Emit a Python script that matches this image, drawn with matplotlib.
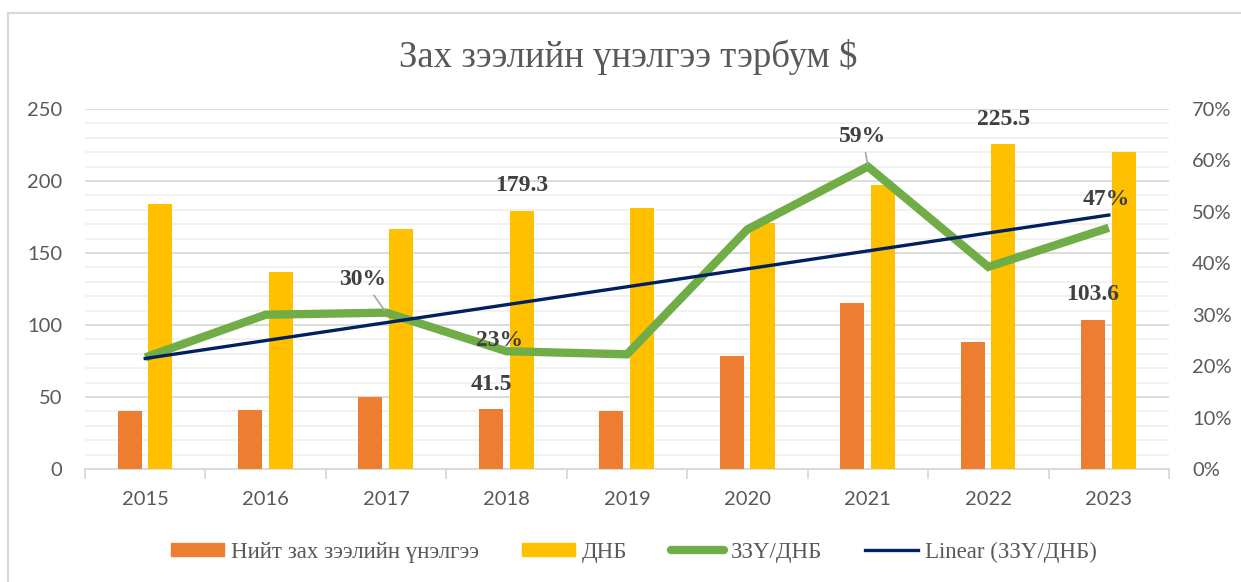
import numpy as np
import matplotlib
matplotlib.use("Agg")
import matplotlib.pyplot as plt
from matplotlib.lines import Line2D
from matplotlib.patches import Rectangle

years = ["2015", "2016", "2017", "2018", "2019", "2020", "2021", "2022", "2023"]
market_cap = [40.1, 40.8, 50.3, 41.5, 40.4, 78.8, 115.0, 87.9, 103.6]
gdp = [184.1, 137.1, 166.5, 179.3, 181.1, 170.7, 196.9, 225.5, 220.1]
ratio = [0.217, 0.300, 0.304, 0.229, 0.223, 0.466, 0.588, 0.393, 0.469]

title = "Зах зээлийн үнэлгээ тэрбум $"
lbl_mc = "Нийт зах зээлийн үнэлгээ"
lbl_gdp = "ДНБ"
lbl_ratio = "ЗЗҮ/ДНБ"
lbl_trend = "Linear (ЗЗҮ/ДНБ)"

C_OR = "#ED7D31"
C_YE = "#FFC000"
C_GR = "#70AD47"
C_NV = "#002060"
C_TXT = "#595959"
C_LBL = "#404040"

W, H = 1241, 582
fig = plt.figure(figsize=(W / 100, H / 100), dpi=100)
fig.patch.set_facecolor("white")

# chart border (top/left visible)
fig.add_artist(Rectangle((8 / W, -0.1), 1.2, 1 - 13 / H + 0.1, transform=fig.transFigure,
                         fill=False, edgecolor="#d9d9d9", lw=1.5))

ax = fig.add_axes([85 / W, (H - 469) / H, (1169 - 85) / W, (469 - 109) / H])
ax2 = ax.twinx()

x = np.arange(len(years))
bw = 0.2
ax.bar(x - 0.13, market_cap, bw, color=C_OR, zorder=3, label=lbl_mc)
ax.bar(x + 0.125, gdp, bw, color=C_YE, zorder=3, label=lbl_gdp)

ax.set_xlim(-0.5, len(years) - 0.5)
ax.set_ylim(0, 250)
ax.set_yticks(np.arange(0, 251, 50))
ax.set_yticks(np.arange(0, 251, 10), minor=True)
ax.grid(which="major", axis="y", color="#d9d9d9", lw=1.3, zorder=0)
ax.grid(which="minor", axis="y", color="#f0f0f0", lw=1.3, zorder=0)
ax.set_axisbelow(True)

ax.set_xticks(x)
ax.set_xticklabels(years)
ax.set_xticks(np.arange(-0.5, len(years)), minor=True)
ax.tick_params(axis="x", which="major", length=0, pad=16)
ax.tick_params(axis="x", which="minor", length=7, color="#d9d9d9", width=1.3)
ax.tick_params(axis="y", which="both", length=0, pad=16.5)
for s in ["top", "right", "left"]:
    ax.spines[s].set_visible(False)
ax.spines["bottom"].set_color("#d9d9d9")
ax.spines["bottom"].set_linewidth(1.3)

for sp in ax2.spines.values():
    sp.set_visible(False)
ax2.set_ylim(0, 0.7)
ax2.set_yticks(np.arange(0, 0.71, 0.1))
ax2.set_yticklabels([f"{int(round(v*100))}%" for v in np.arange(0, 0.71, 0.1)])
ax2.tick_params(axis="y", length=0, pad=16.5)

for a in (ax, ax2):
    for t in a.get_xticklabels() + a.get_yticklabels():
        t.set_fontfamily("Lato")
        t.set_fontsize(14.5)
        t.set_color(C_TXT)

ax2.plot(x, ratio, color=C_GR, lw=6, solid_joinstyle="miter", solid_capstyle="butt", zorder=4)
coef = np.polyfit(x, ratio, 1)
trend = np.polyval(coef, x)
ax2.plot(x, trend, color=C_NV, lw=2.4, zorder=5)

# data labels
lab_kw = dict(fontsize=17, fontweight="bold", family="Liberation Serif", color=C_LBL,
              ha="center", va="center", textcoords="offset pixels", zorder=6)
ax.annotate("179.3", (3 + 0.125, gdp[3]), xytext=(0, 25), **lab_kw)
ax.annotate("225.5", (7 + 0.125, gdp[7]), xytext=(0, 25), **lab_kw)
ax.annotate("41.5", (3 - 0.13, market_cap[3]), xytext=(0, 25), **lab_kw)
ax.annotate("103.6", (8 - 0.13, market_cap[8]), xytext=(0, 25), **lab_kw)

leader = dict(arrowstyle="-", color="#a6a6a6", lw=1.2, shrinkA=2, shrinkB=2)
ax2.annotate("30%", (2, ratio[2]), xytext=(-23, 33), arrowprops=leader, **lab_kw)
ax2.annotate("23%", (3, ratio[3]), xytext=(-7, 11), **lab_kw)
ax2.annotate("59%", (6, ratio[6]), xytext=(-5, 30), arrowprops=leader, **lab_kw)
ax2.annotate("47%", (8, ratio[8]), xytext=(-2, 28), **lab_kw)

fig.text(628 / W, 1 - 57 / H, title, ha="center", va="center", fontsize=26.5,
         family="Liberation Serif", color=C_TXT)

handles = [
    Rectangle((0, 0), 1, 1, color=C_OR),
    Rectangle((0, 0), 1, 1, color=C_YE),
    Line2D([], [], color=C_GR, lw=6, solid_capstyle="round"),
    Line2D([], [], color=C_NV, lw=2.4),
]
fig.legend(handles, [lbl_mc, lbl_gdp, lbl_ratio, lbl_trend], loc="center",
           bbox_to_anchor=(634 / W, 1 - 552 / H), ncol=4, frameon=False,
           prop=dict(family="Liberation Serif", size=16.5), labelcolor=C_TXT,
           handlelength=2.3, handleheight=0.45, handletextpad=0.3, columnspacing=1.9)

fig.savefig("out.png", dpi=100, facecolor="white")
